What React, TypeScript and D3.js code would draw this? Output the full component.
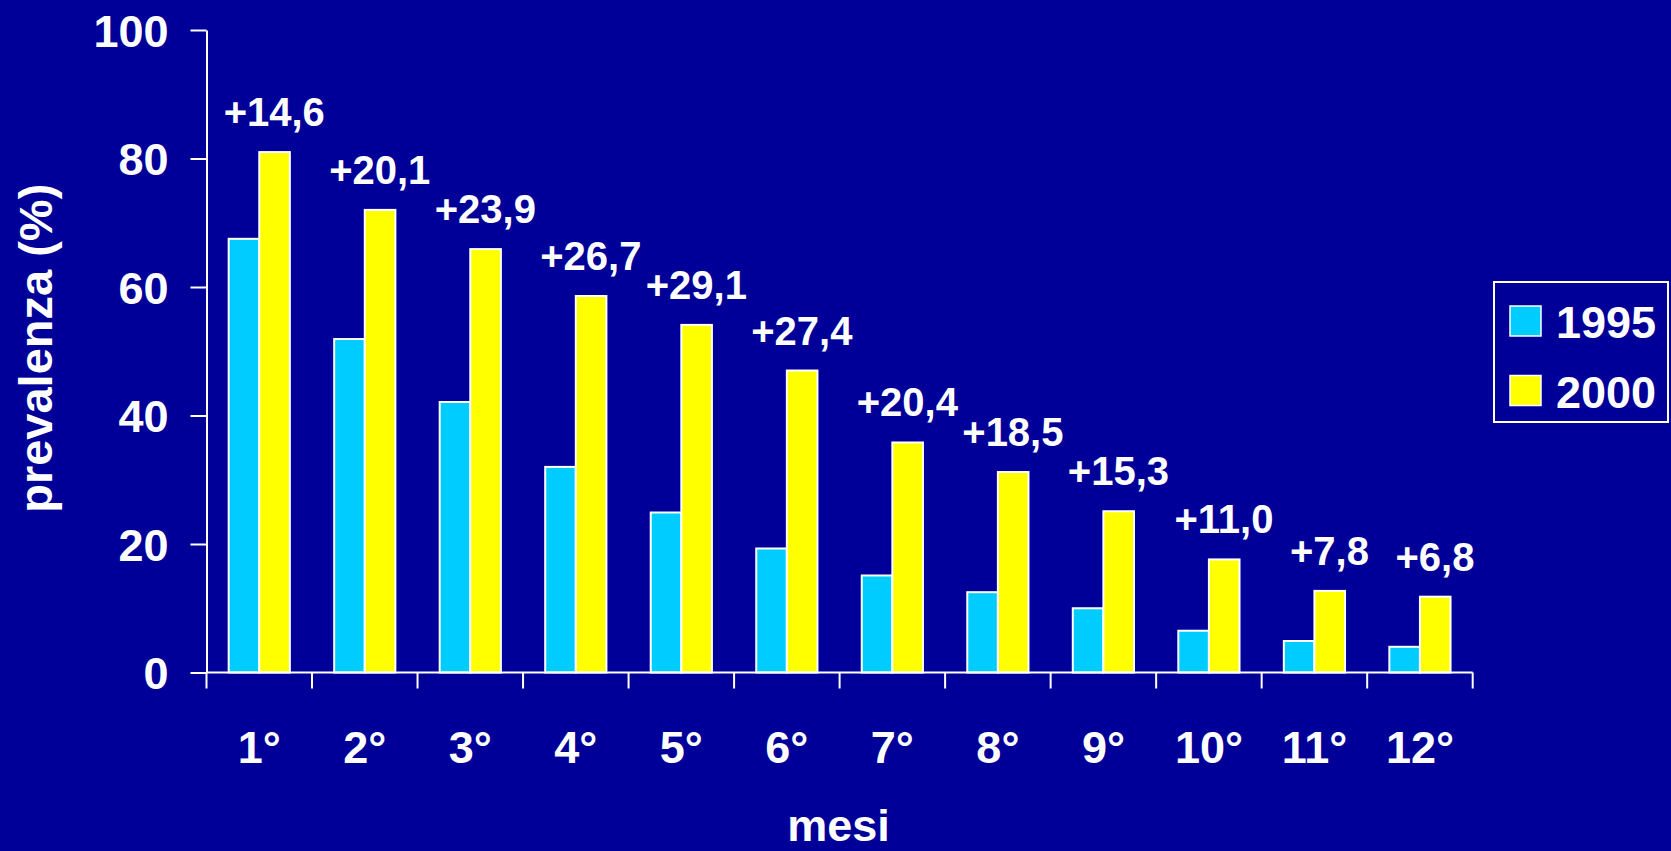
import { useEffect, useRef } from "react";
import * as d3 from "d3";

const months = ["1°", "2°", "3°", "4°", "5°", "6°", "7°", "8°", "9°", "10°", "11°", "12°"];
const series = ["1995", "2000"];
const values1995 = [67.5, 51.9, 42.1, 32.0, 24.9, 19.3, 15.1, 12.5, 10.0, 6.5, 4.9, 4.0];
const values2000 = [81.0, 72.0, 65.9, 58.6, 54.1, 47.0, 35.8, 31.2, 25.1, 17.6, 12.7, 11.8];
const diffLabels = ["+14,6", "+20,1", "+23,9", "+26,7", "+29,1", "+27,4", "+20,4", "+18,5", "+15,3", "+11,0", "+7,8", "+6,8"];
const yTicks = [0, 20, 40, 60, 80, 100];

const W = 1671;
const H = 851;
const BG = "#000099";
const colors = ["#00CCFF", "#FFFF00"];
const FONT = "'Liberation Sans', Arial, sans-serif";

function drawChart(svgEl: SVGSVGElement) {
  const svg = d3.select(svgEl);
  svg.selectAll("*").remove();

  const left = 206.5;
  const right = 1472.7;
  const top = 30;
  const bottom = 672.5;

  svg.append("rect").attr("width", W).attr("height", H).attr("fill", BG);

  const x = d3.scaleBand().domain(months).range([left, right]).padding(0);
  const bw = x.bandwidth();
  const x1 = d3.scaleBand().domain(series).range([0.21 * bw, 0.79 * bw]).padding(0);
  const y = d3.scaleLinear().domain([0, 100]).range([bottom, top]);

  // y axis
  const yAxis = svg
    .append("g")
    .attr("transform", `translate(${left},0)`)
    .call(d3.axisLeft(y).tickValues(yTicks).tickSize(16).tickSizeOuter(0).tickPadding(22));
  yAxis.select(".domain").attr("stroke", "#fff").attr("stroke-width", 2);
  yAxis.selectAll(".tick line").attr("stroke", "#fff").attr("stroke-width", 2);
  yAxis
    .selectAll(".tick text")
    .attr("fill", "#fff")
    .attr("font-family", FONT)
    .attr("font-weight", "bold")
    .attr("font-size", 45)
    .attr("dy", "0.36em");

  // bars
  const data = months.map((m, i) => ({ m, vals: [values1995[i], values2000[i]] }));
  const groups = svg
    .append("g")
    .selectAll("g")
    .data(data)
    .join("g")
    .attr("transform", (d) => `translate(${x(d.m)},0)`);
  groups
    .selectAll("rect")
    .data((d) => d.vals.map((v, j) => ({ v, s: series[j], j })))
    .join("rect")
    .attr("x", (d) => x1(d.s)!)
    .attr("y", (d) => y(d.v))
    .attr("width", x1.bandwidth())
    .attr("height", (d) => bottom - y(d.v))
    .attr("fill", (d) => colors[d.j])
    .attr("stroke", "#fff")
    .attr("stroke-width", 2);

  // x axis
  const xg = svg.append("g");
  xg.append("line")
    .attr("x1", left)
    .attr("x2", right)
    .attr("y1", bottom)
    .attr("y2", bottom)
    .attr("stroke", "#fff")
    .attr("stroke-width", 2);
  const bounds = months.map((m) => x(m)!).concat([right]);
  xg.selectAll("line.tk")
    .data(bounds)
    .join("line")
    .attr("class", "tk")
    .attr("x1", (d) => d)
    .attr("x2", (d) => d)
    .attr("y1", bottom)
    .attr("y2", bottom + 16)
    .attr("stroke", "#fff")
    .attr("stroke-width", 2);
  xg.selectAll("text")
    .data(months)
    .join("text")
    .attr("x", (d) => x(d)! + bw / 2)
    .attr("y", 762.5)
    .attr("text-anchor", "middle")
    .attr("fill", "#fff")
    .attr("font-family", FONT)
    .attr("font-weight", "bold")
    .attr("font-size", 45)
    .text((d) => d);

  // difference labels
  svg
    .append("g")
    .selectAll("text")
    .data(data)
    .join("text")
    .attr("x", (d) => x(d.m)! + bw / 2 + 15)
    .attr("y", (d) => y(d.vals[1]) - 26)
    .attr("text-anchor", "middle")
    .attr("fill", "#fff")
    .attr("font-family", FONT)
    .attr("font-weight", "bold")
    .attr("font-size", 40)
    .text((d, i) => diffLabels[i]);

  // axis titles
  svg
    .append("text")
    .attr("transform", `translate(52,${(top + bottom) / 2 - 3}) rotate(-90)`)
    .attr("text-anchor", "middle")
    .attr("fill", "#fff")
    .attr("font-family", FONT)
    .attr("font-weight", "bold")
    .attr("font-size", 47)
    .text("prevalenza (%)");
  svg
    .append("text")
    .attr("x", 838.5)
    .attr("y", 841)
    .attr("text-anchor", "middle")
    .attr("fill", "#fff")
    .attr("font-family", FONT)
    .attr("font-weight", "bold")
    .attr("font-size", 45)
    .text("mesi");

  // legend
  const lg = svg.append("g");
  lg.append("rect")
    .attr("x", 1494)
    .attr("y", 282)
    .attr("width", 174)
    .attr("height", 140)
    .attr("fill", BG)
    .attr("stroke", "#fff")
    .attr("stroke-width", 2);
  series.forEach((s, i) => {
    lg.append("rect")
      .attr("x", 1510)
      .attr("y", 306 + i * 69.5)
      .attr("width", 31)
      .attr("height", 30)
      .attr("fill", colors[i])
      .attr("stroke", "#fff")
      .attr("stroke-width", 1.5);
    lg.append("text")
      .attr("x", 1556)
      .attr("y", 338 + i * 69.5)
      .attr("fill", "#fff")
      .attr("font-family", FONT)
      .attr("font-weight", "bold")
      .attr("font-size", 45)
      .text(s);
  });
}

export default function App() {
  const ref = useRef<SVGSVGElement>(null);
  useEffect(() => {
    document.body.style.margin = "0";
    if (ref.current) drawChart(ref.current);
  }, []);
  return <svg ref={ref} width={W} height={H} style={{ display: "block" }} />;
}
